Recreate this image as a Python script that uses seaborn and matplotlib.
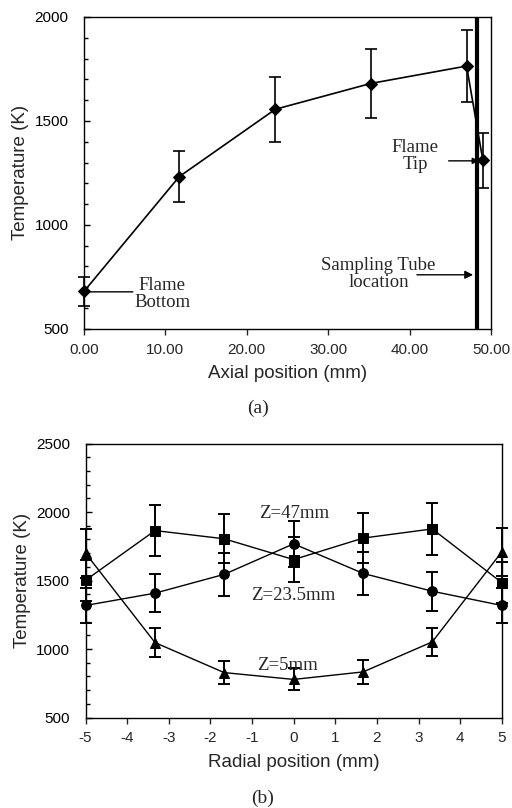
# Flame temperature profiles: axial (a) and radial (b)

import numpy as np
import seaborn as sns
import matplotlib.pyplot as plt
from matplotlib.ticker import MultipleLocator, FormatStrFormatter

sns.set_style('ticks')
plt.rcParams['font.family'] = ['Liberation Sans', 'DejaVu Sans']
plt.rcParams['axes.unicode_minus'] = False

# axial profile
axial_pos = [0.0, 11.7, 23.5, 35.2, 47.0, 49.0]
axial_temp = [680, 1232, 1556, 1680, 1764, 1310]
axial_err = [68, 123, 155, 168, 175, 131]
tube_pos = 48.3

# radial profiles
radial_pos = [-5, -3.33, -1.67, 0, 1.67, 3.33, 5]
temp_z47 = [1502, 1865, 1805, 1653, 1810, 1877, 1485]
err_z47 = [150, 185, 180, 165, 180, 190, 150]
temp_z235 = [1318, 1408, 1545, 1768, 1552, 1422, 1318]
err_z235 = [130, 140, 155, 170, 155, 141, 127]
temp_z5 = [1700, 1047, 828, 778, 833, 1052, 1709]
err_z5 = [180, 105, 84, 80, 85, 104, 175]

serif = ['Liberation Serif', 'DejaVu Serif']

fig = plt.figure(figsize=(5.12, 8.08), dpi=100)
ax1 = fig.add_axes([0.164, 0.593, 0.795, 0.386])
ax2 = fig.add_axes([0.167, 0.112, 0.813, 0.339])

# ---- (a) axial ----
ax1.errorbar(axial_pos, axial_temp, yerr=axial_err, fmt='none', ecolor='black',
             elinewidth=1.2, capsize=4, capthick=1.2, clip_on=False, zorder=3)
sns.lineplot(x=axial_pos, y=axial_temp, ax=ax1, color='black', marker='D',
             markersize=6, linewidth=1.2, markeredgecolor='black', clip_on=False, zorder=4)
ax1.axvline(tube_pos, color='black', lw=3, zorder=5)

ax1.set_xlim(0, 50)
ax1.set_ylim(500, 2000)
ax1.xaxis.set_major_locator(MultipleLocator(10))
ax1.xaxis.set_major_formatter(FormatStrFormatter('%.2f'))
ax1.yaxis.set_major_locator(MultipleLocator(500))
ax1.yaxis.set_minor_locator(MultipleLocator(100))
ax1.set_xlabel('Axial position (mm)', fontsize=13.5, labelpad=6)
ax1.set_ylabel('Temperature (K)', fontsize=13.5, labelpad=4)

plain = dict(arrowstyle='-', color='black', lw=1, shrinkA=0, shrinkB=0)
ax1.annotate('', xy=(0, 678), xytext=(6.0, 678), arrowprops=plain)
ax1.text(9.6, 668, 'Flame\nBottom', family=serif, fontsize=13.5,
         ha='center', va='center', linespacing=1.0)
ax1.annotate('', xy=(48.5, 1308), xytext=(44.8, 1308),
             arrowprops=dict(arrowstyle='-|>', color='black', lw=1, mutation_scale=9,
                             shrinkA=0, shrinkB=0), zorder=4)
ax1.text(40.7, 1332, 'Flame\nTip', family=serif, fontsize=13.5,
         ha='center', va='center', linespacing=1.0)
ax1.annotate('', xy=(47.8, 760), xytext=(40.9, 760),
             arrowprops=dict(arrowstyle='-|>', color='black', lw=1, mutation_scale=12,
                             shrinkA=0, shrinkB=0))
ax1.text(36.2, 762, 'Sampling Tube\nlocation', family=serif, fontsize=13.5,
         ha='center', va='center', linespacing=1.0)

# ---- (b) radial ----
series = [(temp_z47, err_z47, 's', 7), (temp_z235, err_z235, 'o', 7), (temp_z5, err_z5, '^', 7)]
for temps, errs, mk, ms in series:
    ax2.errorbar(radial_pos, temps, yerr=errs, fmt='none', ecolor='black',
                 elinewidth=1.4, capsize=4, capthick=1.4, clip_on=False, zorder=3)
    sns.lineplot(x=radial_pos, y=temps, ax=ax2, color='black', marker=mk,
                 markersize=ms, linewidth=1.0, markeredgecolor='black', clip_on=False, zorder=4)

ax2.set_xlim(-5, 5)
ax2.set_ylim(500, 2500)
ax2.xaxis.set_major_locator(MultipleLocator(1))
ax2.yaxis.set_major_locator(MultipleLocator(500))
ax2.yaxis.set_minor_locator(MultipleLocator(100))
ax2.set_xlabel('Radial position (mm)', fontsize=13.5, labelpad=6)
ax2.set_ylabel('Temperature (K)', fontsize=13.5, labelpad=4)

ax2.text(0, 1990, 'Z=47mm', family=serif, fontsize=13.5, ha='center', va='center')
ax2.text(0, 1393, 'Z=23.5mm', family=serif, fontsize=13.5, ha='center', va='center')
ax2.text(-0.16, 882, 'Z=5mm', family=serif, fontsize=13.5, ha='center', va='center')

for ax in (ax1, ax2):
    for s in ax.spines.values():
        s.set_linewidth(1.0)
        s.set_color('black')
    ax.tick_params(axis='y', which='both', direction='in', length=4, width=1,
                   labelsize=11, colors='black', pad=11)
    ax.tick_params(axis='y', which='minor', length=3)
    ax.tick_params(axis='x', direction='out', length=4, width=1, labelsize=11, pad=6)
    ax.tick_params(axis='x', which='minor', bottom=False)

fig.text(0.504, 0.495, '(a)', family=serif, fontsize=14, ha='center', va='center')
fig.text(0.512, 0.012, '(b)', family=serif, fontsize=14, ha='center', va='center')

fig.savefig('out.png', dpi=100)
